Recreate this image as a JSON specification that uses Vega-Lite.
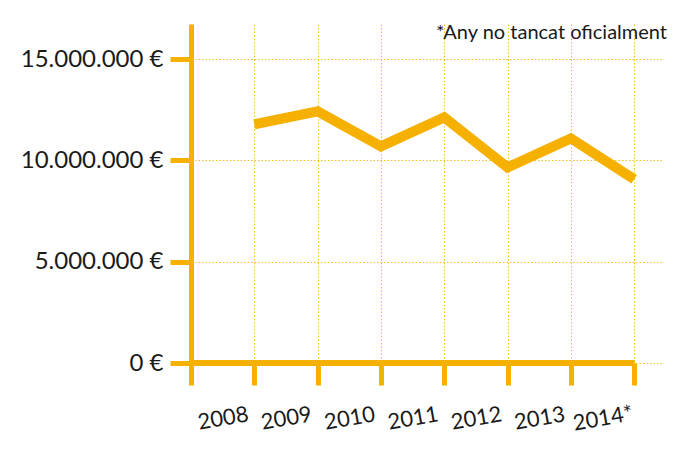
{
  "$schema": "https://vega.github.io/schema/vega-lite/v6.json",
  "width": 471,
  "height": 339,
  "autosize": "none",
  "padding": {"left": 191, "top": 24, "right": 18, "bottom": 92},
  "background": "white",
  "title": {
    "text": "*Any no tancat oficialment",
    "anchor": "end",
    "orient": "top",
    "frame": "group",
    "fontSize": 20,
    "font": "Lato",
    "fontWeight": "normal",
    "color": "#1a1a1a",
    "baseline": "top",
    "offset": -19,
    "dx": 5
  },
  "config": {"view": {"stroke": null}, "font": "Lato"},
  "data": {
    "values": [
      {"year": 2008, "value": 11790000},
      {"year": 2009, "value": 12430000},
      {"year": 2010, "value": 10700000},
      {"year": 2011, "value": 12130000},
      {"year": 2012, "value": 9660000},
      {"year": 2013, "value": 11090000},
      {"year": 2014, "value": 9070000}
    ]
  },
  "layer": [
    {
      "mark": {"type": "line", "color": "#F5B000", "strokeWidth": 10, "strokeJoin": "miter", "strokeCap": "butt"},
      "encoding": {
        "x": {
          "field": "year",
          "type": "ordinal",
          "bandPosition": 1,
          "scale": {"paddingInner": 0, "paddingOuter": 0.22, "align": 0},
          "axis": {
            "title": null,
            "tickBand": "extent",
            "domain": false,
            "ticks": true,
            "tickColor": "#F5B000",
            "tickWidth": 5,
            "tickSize": 22,
            "tickCap": "butt",
            "labelAngle": -10,
            "labelAlign": "center",
            "labelBaseline": "middle",
            "labelPadding": 33,
            "labelFontSize": 22,
            "labelColor": "#1a1a1a",
            "labelOverlap": false,
            "labelFlush": false,
            "labelBound": false,
            "labelExpr": "datum.value == 2014 ? '2014*' : datum.label",
            "grid": true,
            "gridColor": "#F5B000",
            "gridOpacity": 0.85,
            "gridDash": [1.5, 2],
            "gridWidth": 1
          }
        },
        "y": {
          "field": "value",
          "type": "quantitative",
          "scale": {"domain": [0, 16740000], "nice": false, "zero": true},
          "axis": {
            "title": null,
            "values": [0, 5000000, 10000000, 15000000],
            "domainColor": "#F5B000",
            "domainWidth": 5,
            "domainCap": "butt",
            "tickColor": "#F5B000",
            "tickWidth": 5,
            "tickSize": 21,
            "tickCap": "butt",
            "labelPadding": 7,
            "labelFontSize": 24,
            "labelColor": "#1a1a1a",
            "labelExpr": "replace(replace(format(datum.value, ','), ',', '.'), ',', '.') + ' €'",
            "grid": true,
            "gridColor": "#F5B000",
            "gridOpacity": 0.85,
            "gridDash": [1.5, 2],
            "gridWidth": 1
          }
        }
      }
    },
    {
      "mark": {"type": "rule", "color": "#F5B000", "strokeWidth": 5, "strokeCap": "butt"},
      "encoding": {
        "x": {"datum": 2008, "type": "ordinal", "bandPosition": 0},
        "x2": {"datum": 2014, "bandPosition": 1},
        "y": {"datum": 0, "type": "quantitative"}
      }
    }
  ]
}
